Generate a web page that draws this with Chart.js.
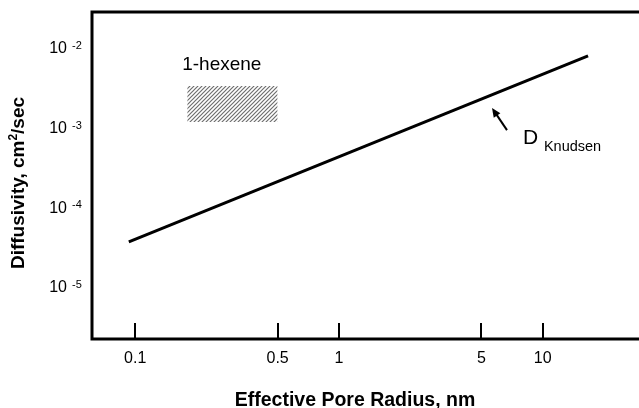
<!DOCTYPE html>
<html>
<head>
<meta charset="utf-8">
<script src="https://cdn.jsdelivr.net/npm/chart.js@4"></script>
<style>
  html, body { margin: 0; padding: 0; background: #fff; }
  #wrap { width: 639px; height: 408px; }
</style>
</head>
<body>
<div id="wrap"><canvas id="diffChart"></canvas></div>
<script>
//data
const poreRadius = [0.093, 16.7];
const knudsenDiffusivity = [3.8e-5, 8.2e-3];
const hexeneRadius = [0.18, 0.5];
const hexeneLow = [1.21e-3, 1.21e-3];
const hexeneHigh = [3.44e-3, 3.44e-3];
const xTicks = [0.1, 0.5, 1, 5, 10];
const yTicks = [1e-5, 1e-4, 1e-3, 1e-2];

const FONT = "'Liberation Sans', Arial, sans-serif";

function toPoints(xs, ys){
    return xs.map((x, i) => ({x: x, y: ys[i]}));
}

//hatch pattern for the 1-hexene box
function hatchPattern(){
    const c = document.createElement('canvas');
    c.width = 4; c.height = 4;
    const g = c.getContext('2d');
    g.fillStyle = '#fff';
    g.fillRect(0, 0, 4, 4);
    g.strokeStyle = '#6e6e6e';
    g.lineWidth = 1.2;
    g.beginPath();
    g.moveTo(-1, 5); g.lineTo(5, -1);
    g.moveTo(-1, 1); g.lineTo(1, -1);
    g.moveTo(3, 5); g.lineTo(5, 3);
    g.stroke();
    return g.createPattern(c, 'repeat');
}

//frame, inward ticks, y labels, titles, annotations
const decorations = {
    id: 'decorations',
    afterDraw(chart){
        const ctx = chart.ctx;
        const area = chart.chartArea;
        const xs = chart.scales.x;
        const ys = chart.scales.y;
        ctx.save();
        ctx.strokeStyle = '#000';
        ctx.fillStyle = '#000';

        //frame (open on the right)
        ctx.lineWidth = 3;
        ctx.beginPath();
        ctx.moveTo(chart.width, area.top);
        ctx.lineTo(area.left, area.top);
        ctx.lineTo(area.left, area.bottom);
        ctx.lineTo(chart.width, area.bottom);
        ctx.stroke();

        //tick marks pointing inward
        ctx.lineWidth = 2;
        xTicks.forEach(v => {
            const px = Math.round(xs.getPixelForValue(v));
            ctx.beginPath();
            ctx.moveTo(px, area.bottom);
            ctx.lineTo(px, area.bottom - 16);
            ctx.stroke();
        });

        //y tick labels 10^n
        yTicks.forEach(v => {
            const py = ys.getPixelForValue(v);
            const exp = Math.round(Math.log10(v));
            ctx.font = '16px ' + FONT;
            ctx.textAlign = 'right';
            ctx.textBaseline = 'middle';
            ctx.fillText('10', 67, py);
            ctx.font = '11px ' + FONT;
            ctx.textAlign = 'left';
            ctx.fillText('-' + Math.abs(exp), 72, py - 3);
        });

        //x title
        ctx.font = 'bold 19.5px ' + FONT;
        ctx.textAlign = 'center';
        ctx.textBaseline = 'alphabetic';
        ctx.fillText('Effective Pore Radius, nm', 355, 406);

        //y title with superscript
        ctx.save();
        ctx.translate(24, 183);
        ctx.rotate(-Math.PI / 2);
        const partA = 'Diffusivity, cm';
        const partB = '2';
        const partC = '/sec';
        ctx.font = 'bold 19px ' + FONT;
        const wA = ctx.measureText(partA).width;
        const wC = ctx.measureText(partC).width;
        ctx.font = 'bold 12px ' + FONT;
        const wB = ctx.measureText(partB).width;
        let start = -(wA + wB + wC) / 2;
        ctx.textAlign = 'left';
        ctx.font = 'bold 19px ' + FONT;
        ctx.fillText(partA, start, 0);
        ctx.font = 'bold 12px ' + FONT;
        ctx.fillText(partB, start + wA, -7);
        ctx.font = 'bold 19px ' + FONT;
        ctx.fillText(partC, start + wA + wB, 0);
        ctx.restore();

        //1-hexene label
        ctx.font = '19px ' + FONT;
        ctx.textAlign = 'left';
        ctx.textBaseline = 'middle';
        ctx.fillText('1-hexene', xs.getPixelForValue(0.17), ys.getPixelForValue(6.3e-3));

        //arrow to Knudsen line
        const tailX = xs.getPixelForValue(6.68), tailY = ys.getPixelForValue(9.6e-4);
        const tipX = xs.getPixelForValue(5.64), tipY = ys.getPixelForValue(1.82e-3);
        const ang = Math.atan2(tipY - tailY, tipX - tailX);
        ctx.lineWidth = 2;
        ctx.beginPath();
        ctx.moveTo(tailX, tailY);
        ctx.lineTo(tipX - 5 * Math.cos(ang), tipY - 5 * Math.sin(ang));
        ctx.stroke();
        ctx.beginPath();
        ctx.moveTo(tipX, tipY);
        ctx.lineTo(tipX - 9 * Math.cos(ang) + 4 * Math.sin(ang), tipY - 9 * Math.sin(ang) - 4 * Math.cos(ang));
        ctx.lineTo(tipX - 9 * Math.cos(ang) - 4 * Math.sin(ang), tipY - 9 * Math.sin(ang) + 4 * Math.cos(ang));
        ctx.closePath();
        ctx.fill();

        //D Knudsen
        const dX = xs.getPixelForValue(8.0), dY = ys.getPixelForValue(7.6e-4);
        ctx.font = '21px ' + FONT;
        ctx.fillText('D', dX, dY);
        ctx.font = '14.5px ' + FONT;
        ctx.fillText('Knudsen', dX + 21, dY + 9);

        ctx.restore();
    }
};

let containerDiffChart = document.querySelector('#diffChart').getContext('2d');
let diffChart = new Chart(containerDiffChart, {
    type: 'line',
    data: {
        datasets: [{
            data: toPoints(hexeneRadius, hexeneLow),
            borderWidth: 0,
            pointRadius: 0,
            fill: false
        }, {
            data: toPoints(hexeneRadius, hexeneHigh),
            borderWidth: 0,
            pointRadius: 0,
            backgroundColor: hatchPattern(),
            fill: '-1'
        }, {
            data: toPoints(poreRadius, knudsenDiffusivity),
            borderColor: '#000',
            borderWidth: 3,
            pointRadius: 0,
            fill: false
        }]
    },
    options: {
        responsive: true,
        maintainAspectRatio: false,
        animation: false,
        layout: {
            padding: {top: 12, right: 0, left: 0, bottom: 0}
        },
        plugins: {
            legend: {display: false},
            tooltip: {enabled: false}
        },
        scales: {
            x: {
                type: 'logarithmic',
                min: 0.06135,
                max: 29.7,
                bounds: 'data',
                afterBuildTicks: scale => { scale.ticks = xTicks.map(v => ({value: v})); },
                afterFit: scale => { scale.height = 69; },
                grid: {display: false, drawTicks: false},
                border: {display: false},
                ticks: {
                    color: '#000',
                    padding: 10,
                    maxRotation: 0,
                    autoSkip: false,
                    font: {family: FONT, size: 16},
                    callback: v => String(v)
                }
            },
            y: {
                type: 'logarithmic',
                min: 2.29e-6,
                max: 0.02913,
                bounds: 'data',
                afterBuildTicks: scale => { scale.ticks = yTicks.map(v => ({value: v})); },
                afterFit: scale => { scale.width = 92; },
                grid: {display: false, drawTicks: false},
                border: {display: false},
                ticks: {display: false}
            }
        }
    },
    plugins: [decorations]
});
</script>
</body>
</html>
